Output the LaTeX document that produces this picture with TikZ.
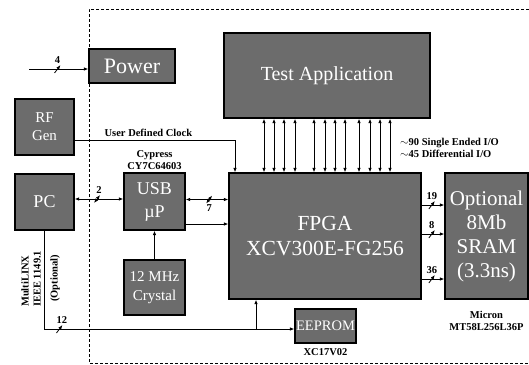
\documentclass[tikz,border=0pt]{standalone}
\usepackage{fontspec}
\setmainfont{Liberation Serif}
\usepackage{tikz}
\usetikzlibrary{arrows.meta}
\definecolor{chip}{RGB}{108,108,108}

\begin{document}
\begin{tikzpicture}[x=1pt,y=-1pt,>={Latex[length=4.5pt,width=3.5pt]},
  blk/.style={draw,line width=1.2pt,fill=chip,text=white,align=center,inner sep=0pt},
  wire/.style={line width=0.9pt},
  lbl/.style={font=\fontsize{10.5}{12}\selectfont\bfseries,align=center,inner sep=0pt},
  num/.style={font=\fontsize{10.5}{10}\selectfont\bfseries,inner sep=1pt},
  busmark/.pic={\draw[line width=0.8pt] (-3,4) -- (3,-4);}]
  \useasboundingbox (0,0) rectangle (529,364);
  % board edge
  \draw[densely dashed,line width=0.8pt] (529,9) -- (89,9) -- (89,363) -- (529,363);
  % blocks
  \node[blk,minimum width=86pt,minimum height=34pt,font=\fontsize{22}{24}\selectfont] (power) at (132,66) {Power};
  \node[blk,minimum width=206pt,minimum height=85pt,font=\fontsize{20}{24}\selectfont] (testapp) at (327,75.5) {Test Application};
  \node[blk,minimum width=59pt,minimum height=56pt,font=\fontsize{15}{18}\selectfont] (rfgen) at (44.5,127) {RF\\Gen};
  \node[blk,minimum width=59pt,minimum height=56pt,font=\fontsize{18}{21}\selectfont] (pc) at (44.5,202) {PC};
  \node[blk,minimum width=61pt,minimum height=57pt,font=\fontsize{18}{23}\selectfont] (usb) at (154.5,201.5) {USB\\µP};
  \node[blk,minimum width=61pt,minimum height=55pt,font=\fontsize{15}{19}\selectfont] (crystal) at (154.5,287.5) {12 MHz\\Crystal};
  \node[blk,minimum width=192pt,minimum height=126pt,font=\fontsize{21.5}{25}\selectfont] (fpga) at (325,236) {FPGA\\XCV300E-FG256};
  \node[blk,minimum width=83pt,minimum height=126pt,font=\fontsize{21}{24}\selectfont] (sram) at (486.5,236) {Optional\\8Mb\\SRAM\\(3.3ns)};
  \node[blk,minimum width=61pt,minimum height=34pt,font=\fontsize{14.5}{16}\selectfont] (eeprom) at (325.5,326) {EEPROM};
  % part numbers
  \node[lbl,anchor=south] (usbpart) at ([yshift=3pt]usb.north) {Cypress\\CY7C64603};
  \node[lbl,anchor=north] (srampart) at ([yshift=-11pt]sram.south) {Micron\\MT58L256L36P};
  \node[lbl,anchor=north] (eeprompart) at ([yshift=-5pt]eeprom.south) {XC17V02};
  \node[lbl,rotate=90,anchor=west,align=left] (jtaglbl) at (31,307) {MultiLINX\\IEEE 1149.1};
  \node[lbl,rotate=90,anchor=west] (optlbl) at (55,302) {(Optional)};
  \node[lbl,anchor=west,align=left] (iolbl) at (400,148) {$\sim$90 Single Ended I/O\\$\sim$45 Differential I/O};
  % wires
  \coordinate (pwrin) at (29,69);
  \draw[wire,->] (pwrin) -- pic[pos=.48]{busmark} node[num,pos=.48,above=4pt] {4} (pwrin -| power.west);
  \draw[wire,->] ([yshift=-13pt]rfgen.east) -| node[lbl,pos=.23,above=3pt] {User Defined Clock} ([xshift=-90pt]fpga.north);
  \draw[wire,<->] ([yshift=3pt]pc.east) -- pic[pos=.46]{busmark} node[num,pos=.5,above=4pt] {2} ([yshift=3pt]pc.east -| usb.west);
  \draw[wire,<->] ([yshift=2pt]usb.east) -- pic[pos=.55]{busmark} node[num,pos=.55,below=4pt] {7} ([yshift=2pt]usb.east -| fpga.west);
  \draw[wire,->] ([yshift=-22.5pt]usb.east) -- ([yshift=-22.5pt]usb.east -| fpga.west);
  \draw[wire,->] (crystal) -- (usb);
  \foreach \bx in {264,274,284,295,314,325,335,345,359,370,380,390}
    \draw[wire,<->] (testapp.south -| \bx,0) -- (fpga.north -| \bx,0);
  \foreach \dy/\n in {31/19,2/8,-43/36}
    \draw[wire,->] ([yshift=\dy pt]fpga.east) -- pic[pos=.45]{busmark} node[num,pos=.45,above=4pt] {\n} ([yshift=\dy pt]fpga.east -| sram.west);
  \draw[wire,->] (pc.south) |- pic[pos=.53]{busmark} node[num,pos=.535,above=4pt] {12} ([yshift=-3pt]eeprom.west);
  \coordinate (tap) at (256,329);
  \draw[wire,->] (tap) -- (tap |- fpga.south);
\end{tikzpicture}
\end{document}
